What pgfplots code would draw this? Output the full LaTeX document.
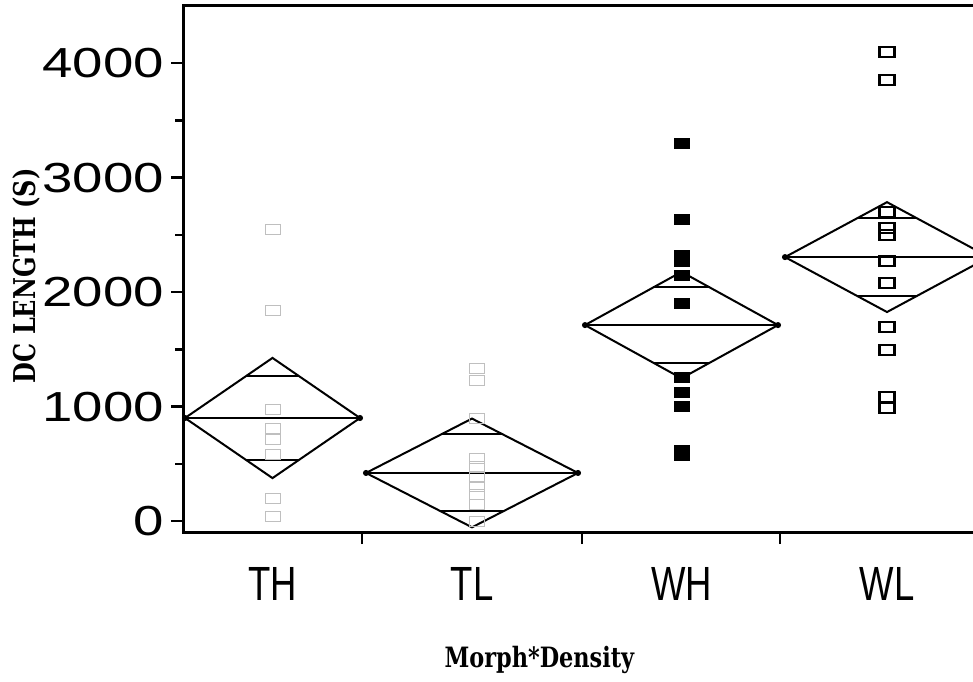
\documentclass[border=0pt]{standalone}
\usepackage{pgfplots}
\pgfplotsset{compat=1.18}
\usepackage{fontspec}
\setmainfont{Liberation Sans}
\newfontfamily\tickfont[FakeStretch=1.3]{Liberation Sans}
\newfontfamily\catfont[FakeStretch=0.76]{Liberation Sans}
\newfontfamily\slabfont[FakeStretch=0.8]{DejaVu Serif}

\definecolor{faint}{gray}{0.75}

\begin{document}
\begin{tikzpicture}
\begin{axis}[
  at={(91.5pt,74.5pt)}, anchor=south west,
  scale only axis, width=405pt, height=263pt,
  xmin=183, xmax=993, ymin=-96, ymax=4500,
  axis line style={line width=1.5pt},
  tick align=outside, tick pos=left,
  every tick/.style={black, line width=1.2pt},
  major tick length=6pt, minor tick length=4pt,
  xtick={362,582,780}, xticklabels={,,},
  extra x ticks={272.5,472,681.5,887},
  extra x tick labels={TH,TL,WH,WL},
  extra x tick style={major tick length=0pt,
    tick label style={font=\catfont\fontsize{24}{24}\selectfont, yshift=-14pt}},
  ytick={0,1000,2000,3000,4000},
  minor ytick={500,1500,2500,3500},
  /pgf/number format/assume math mode=true,
  /pgf/number format/1000 sep={},
  yticklabel style={font=\tickfont\fontsize{21}{21}\selectfont},
  ylabel={\slabfont\bfseries DC LENGTH (S)},
  ylabel style={at={(axis description cs:-0.193,0.487)}, anchor=center,
    font=\fontsize{15}{15}\selectfont},
  xlabel={\slabfont\bfseries Morph*Density},
  xlabel style={at={(axis description cs:0.44,-0.243)}, anchor=center,
    font=\fontsize{14}{14}\selectfont},
  clip=false,
]

% raw observations per group
\addplot[only marks, mark=square, mark size=2.5pt, faint,
  mark options={xscale=1.45, line width=0.5pt}]
  coordinates {(273,2550) (273,1843) (273,975) (273,808) (273,712)
               (273,585) (273,197) (273,40)};
\addplot[only marks, mark=square, mark size=2.5pt, faint,
  mark options={xscale=1.45, line width=0.5pt}]
  coordinates {(477,1330) (477,1230) (477,900) (477,550) (477,480)
               (477,380) (477,300) (477,230) (477,140) (477,0)};
\addplot[only marks, mark=square*, mark size=2.5pt, black,
  mark options={xscale=1.5}]
  coordinates {(682,3301) (682,2638) (682,2320) (682,2270) (682,2148)
               (682,1904) (682,1258) (682,1127) (682,1004) (682,620) (682,570)};
\addplot[only marks, mark=square, mark size=2.5pt, black,
  mark options={xscale=1.5, line width=1.1pt}]
  coordinates {(887,4096) (887,3852) (887,2699) (887,2560) (887,2500)
               (887,2270) (887,2079) (887,1694) (887,1493) (887,1083) (887,987)};

% means diamonds: mean line, 95% interval, overlap marks
\pgfplotsset{diam/.style={black, line width=1pt, mark=none}}
% TH
\addplot[diam] coordinates {(185,900) (272.5,1425) (360,900) (272.5,375) (185,900)};
\addplot[diam] coordinates {(185,900) (360,900)};
\addplot[diam] coordinates {(247,1271) (298,1271)};
\addplot[diam] coordinates {(247,529) (298,529)};
% TL
\addplot[diam] coordinates {(366,420) (472,895) (578,420) (472,-55) (366,420)};
\addplot[diam] coordinates {(366,420) (578,420)};
\addplot[diam] coordinates {(441,756) (503,756)};
\addplot[diam] coordinates {(441,84) (503,84)};
% WH
\addplot[diam] coordinates {(585,1712) (681.5,2177) (778,1712) (681.5,1247) (585,1712)};
\addplot[diam] coordinates {(585,1712) (778,1712)};
\addplot[diam] coordinates {(653,2041) (710,2041)};
\addplot[diam] coordinates {(653,1383) (710,1383)};
% WL
\addplot[diam] coordinates {(785,2306) (887,2786) (989,2306) (887,1826) (785,2306)};
\addplot[diam] coordinates {(785,2306) (989,2306)};
\addplot[diam] coordinates {(857,2646) (917,2646)};
\addplot[diam] coordinates {(857,1966) (917,1966)};
% diamond end points
\addplot[only marks, mark=*, mark size=1.3pt, black]
  coordinates {(185,900) (360,900) (366,420) (578,420)
               (585,1712) (778,1712) (785,2306) (989,2306)};
\end{axis}
\pgfresetboundingbox
\path[use as bounding box] (0,0) rectangle (486.5pt,340.5pt);
\end{tikzpicture}
\end{document}
